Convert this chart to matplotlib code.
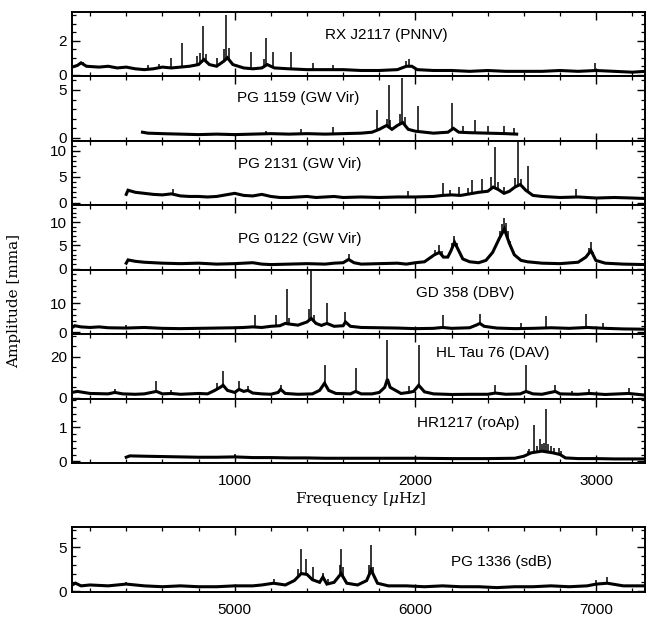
import matplotlib
matplotlib.use('Agg')
import matplotlib.pyplot as plt
import numpy as np
from matplotlib.ticker import MultipleLocator, FixedLocator

plt.rcParams['font.family'] = ['Liberation Sans', 'DejaVu Sans']
plt.rcParams['mathtext.fontset'] = 'dejavuserif'

# ---------------- data (frequency in microHz, amplitude in mma) ----------------
# RX J2117 (PNNV)
rx_floor_f = [100, 130, 150, 180, 250, 300, 350, 400, 450, 500, 550, 600, 650, 700, 750, 800, 830, 860,
              900, 940, 960, 990, 1050, 1100, 1150, 1180, 1220, 1300, 1400, 1500, 1600, 1700, 1800,
              1900, 1950, 1980, 2010, 2100, 2200, 2300, 2400, 2500, 2600, 2700, 2800, 2900, 3000,
              3100, 3200, 3270]
rx_floor_a = [0.45, 0.55, 0.7, 0.5, 0.45, 0.5, 0.4, 0.45, 0.35, 0.3, 0.35, 0.45, 0.4, 0.45, 0.5, 0.6,
              0.9, 0.6, 0.5, 0.8, 1.0, 0.6, 0.4, 0.35, 0.4, 0.6, 0.4, 0.35, 0.3, 0.3, 0.3, 0.25, 0.25,
              0.3, 0.5, 0.5, 0.3, 0.25, 0.25, 0.2, 0.25, 0.2, 0.2, 0.2, 0.25, 0.2, 0.25, 0.2, 0.15, 0.2]
rx_peak_f = [160, 520, 580, 650, 711, 790, 810, 825, 840, 900, 940, 954, 970, 1092, 1160, 1175, 1212,
             1309, 1433, 1543, 1950, 1965, 2995]
rx_peak_a = [0.75, 0.6, 0.65, 1.0, 1.9, 1.1, 1.3, 2.9, 1.2, 1.0, 1.5, 3.5, 1.6, 1.37, 0.9, 2.16, 1.37,
             1.33, 0.7, 0.6, 0.8, 0.9, 0.7]

# PG 1159 (GW Vir)
pg1159_floor_f = [490, 520, 600, 700, 800, 900, 1000, 1100, 1200, 1300, 1400, 1500, 1600, 1700, 1760,
                  1800, 1840, 1870, 1900, 1930, 1960, 2000, 2050, 2100, 2180, 2210, 2240, 2300, 2400,
                  2500, 2560]
pg1159_floor_a = [0.6, 0.5, 0.45, 0.4, 0.35, 0.4, 0.35, 0.4, 0.45, 0.4, 0.45, 0.4, 0.45, 0.5, 0.6,
                  0.9, 1.3, 0.9, 1.3, 1.6, 0.9, 0.7, 0.6, 0.5, 0.6, 1.0, 0.6, 0.55, 0.5, 0.45, 0.4]
pg1159_peak_f = [1175, 1368, 1542, 1786, 1840, 1851, 1862, 1915, 1926, 1940, 2013, 2203, 2262, 2330,
                 2400, 2492, 2547]
pg1159_peak_a = [0.7, 0.9, 1.1, 2.9, 2.0, 5.5, 1.9, 2.5, 6.2, 2.2, 3.3, 3.6, 1.2, 1.9, 1.2, 1.25, 1.0]

# PG 2131 (GW Vir)
pg2131_floor_f = [400, 410, 450, 500, 550, 600, 650, 700, 750, 800, 850, 900, 950, 1000, 1050, 1100,
                  1150, 1200, 1250, 1300, 1350, 1400, 1450, 1500, 1550, 1600, 1700, 1800, 1900, 2000,
                  2100, 2150, 2200, 2250, 2300, 2350, 2400, 2430, 2460, 2490, 2520, 2550, 2580, 2610,
                  2650, 2700, 2800, 2900, 3000, 3100, 3200, 3270]
pg2131_floor_a = [1.6, 2.4, 2.0, 1.8, 1.6, 1.5, 1.7, 1.3, 1.2, 1.2, 1.1, 1.2, 1.5, 1.8, 1.4, 1.3,
                  1.6, 1.2, 1.0, 1.0, 1.1, 1.2, 1.0, 1.1, 1.2, 1.0, 1.1, 1.0, 1.1, 1.1,
                  1.2, 1.4, 1.5, 1.4, 1.7, 2.0, 2.2, 3.0, 2.5, 1.8, 2.2, 3.0, 3.5, 2.4,
                  1.4, 1.2, 1.0, 1.1, 0.9, 1.0, 0.9, 0.8]
pg2131_peak_f = [659, 1958, 2155, 2190, 2243, 2290, 2313, 2367, 2420, 2440, 2455, 2492, 2550, 2569,
                 2585, 2624, 2888]
pg2131_peak_a = [2.6, 2.2, 3.8, 2.5, 3.1, 2.8, 4.4, 4.5, 5.0, 10.8, 4.0, 3.1, 4.7, 11.6, 4.5, 7.1, 2.6]

# PG 0122 (GW Vir)
pg0122_floor_f = [400, 410, 450, 500, 600, 700, 800, 900, 1000, 1100, 1150, 1200, 1300, 1400, 1500,
                  1550, 1600, 1630, 1660, 1700, 1800, 1900, 1950, 2000, 2050, 2105, 2133, 2155, 2179,
                  2197, 2216, 2234, 2262, 2300, 2350, 2390, 2427, 2464, 2492, 2519, 2547, 2584, 2620,
                  2700, 2800, 2900, 2943, 2971, 2998, 3050, 3150, 3270]
pg0122_floor_a = [1.2, 1.9, 1.6, 1.4, 1.2, 1.1, 1.2, 1.0, 1.1, 1.3, 1.0, 0.9, 1.0, 1.1, 1.0,
                  1.2, 1.3, 2.0, 1.3, 1.0, 1.1, 1.2, 1.0, 1.3, 1.5, 3.0, 3.5, 2.5, 2.5,
                  3.9, 5.7, 4.3, 2.1, 1.5, 1.3, 1.8, 3.5, 6.5, 8.5, 5.5, 3.0, 1.8, 1.5,
                  1.2, 1.1, 1.4, 2.5, 3.9, 1.8, 1.2, 1.0, 0.9]
pg0122_peak_f = [1631, 2110, 2129, 2145, 2200, 2216, 2228, 2470, 2480, 2492, 2500, 2510, 2525, 2960,
                 2971, 2985]
pg0122_peak_a = [3.2, 4.0, 5.1, 3.8, 5.5, 7.0, 5.5, 8.0, 9.5, 10.8, 9.8, 8.0, 6.0, 4.5, 5.7, 3.5]

# GD 358 (DBV)
gd358_floor_f = [100, 115, 150, 200, 250, 300, 400, 500, 600, 700, 800, 900, 1000, 1050, 1100, 1150,
                 1200, 1250, 1280, 1300, 1350, 1400, 1424, 1450, 1480, 1510, 1550, 1600, 1613, 1640,
                 1700, 1800, 1900, 2000, 2100, 2150, 2200, 2300, 2340, 2356, 2380, 2450, 2550, 2650,
                 2750, 2850, 2950, 3050, 3150, 3270]
gd358_floor_a = [1.5, 2.2, 1.8, 1.6, 1.8, 1.5, 1.4, 1.6, 1.3, 1.2, 1.3, 1.4, 1.5, 1.6, 1.8, 1.6,
                 2.0, 2.2, 3.0, 2.8, 2.4, 3.5, 4.7, 3.0, 2.3, 3.0, 2.0, 2.2, 3.5, 2.0,
                 1.6, 1.5, 1.4, 1.2, 1.3, 1.6, 1.3, 1.5, 2.5, 3.0, 2.0, 1.4, 1.2, 1.3,
                 1.5, 1.3, 1.6, 1.3, 1.1, 1.0]
gd358_peak_f = [398, 1114, 1227, 1289, 1300, 1410, 1424, 1440, 1510, 1613, 2151, 2356, 2584, 2722,
                2943, 3039]
gd358_peak_a = [2.4, 5.9, 5.9, 15.0, 5.0, 8.0, 21.0, 6.0, 10.1, 7.0, 5.9, 6.4, 3.0, 5.5, 6.4, 3.0]

# HL Tau 76 (DAV)
hltau_floor_f = [100, 130, 200, 300, 337, 380, 450, 500, 567, 600, 650, 700, 750, 800, 850, 890, 920,
                 936, 960, 1000, 1024, 1050, 1073, 1100, 1150, 1200, 1240, 1254, 1280, 1350, 1430,
                 1470, 1497, 1520, 1560, 1640, 1669, 1700, 1760, 1800, 1830, 1845, 1860, 1920, 1963,
                 1990, 2018, 2050, 2100, 2200, 2300, 2400, 2442, 2500, 2580, 2612, 2650, 2700, 2774,
                 2800, 2900, 2962, 3050, 3179, 3270]
hltau_floor_a = [2.5, 3.0, 2.0, 1.8, 2.5, 1.8, 1.6, 1.8, 3.0, 1.8, 2.0, 1.6, 1.8, 2.0, 1.8, 3.5, 5.0,
                 6.0, 3.5, 2.5, 4.0, 3.0, 3.5, 2.2, 1.8, 1.6, 2.5, 4.0, 2.0, 1.6, 1.8,
                 3.5, 7.0, 3.5, 2.0, 1.8, 3.0, 1.8, 1.8, 2.5, 5.0, 9.0, 5.0, 2.0, 2.5,
                 3.0, 6.0, 2.8, 1.8, 1.5, 1.6, 1.6, 2.2, 1.6, 1.8, 3.0, 1.8, 1.6, 3.0,
                 1.8, 1.6, 2.0, 1.5, 2.0, 1.2]
hltau_peak_f = [337, 567, 650, 902, 936, 1024, 1073, 1254, 1497, 1669, 1845, 1963, 2018, 2442, 2612,
                2774, 2867, 2962, 3179]
hltau_peak_a = [4.4, 8.0, 3.9, 7.2, 12.8, 8.0, 5.5, 6.3, 16.1, 14.5, 28.0, 5.5, 25.9, 6.3, 16.1,
                6.3, 3.0, 4.2, 4.7]

# HR1217 (roAp)
hr1217_floor_f = [400, 420, 500, 600, 700, 800, 900, 1000, 1100, 1200, 1300, 1400, 1500, 1600, 1800,
                  2000, 2200, 2400, 2550, 2600, 2640, 2700, 2760, 2800, 2830, 2900, 3000, 3100, 3270]
hr1217_floor_a = [0.12, 0.16, 0.15, 0.14, 0.13, 0.12, 0.12, 0.13, 0.11, 0.11, 0.10, 0.10, 0.09, 0.09,
                  0.09, 0.09, 0.08, 0.08, 0.09, 0.15, 0.25, 0.3, 0.25, 0.2, 0.1, 0.08, 0.08, 0.07, 0.07]
hr1217_peak_f = [1000, 2620, 2630, 2654, 2670, 2689, 2700, 2710, 2722, 2735, 2750, 2765, 2792, 2805]
hr1217_peak_a = [0.22, 0.3, 0.35, 1.06, 0.45, 0.67, 0.5, 0.55, 1.53, 0.5, 0.45, 0.4, 0.4, 0.3]

# PG 1336 (sdB)
pg1336_floor_f = [4100, 4120, 4150, 4200, 4300, 4400, 4500, 4600, 4700, 4800, 4900, 5000, 5100, 5150,
                  5215, 5280, 5330, 5368, 5400, 5430, 5470, 5488, 5510, 5550, 5589, 5620, 5680, 5730,
                  5755, 5790, 5850, 5950, 6050, 6150, 6250, 6350, 6450, 6550, 6650, 6750, 6850, 6950,
                  7000, 7061, 7150, 7270]
pg1336_floor_a = [0.7, 0.9, 0.6, 0.7, 0.6, 0.8, 0.6, 0.5, 0.6, 0.5, 0.5, 0.6, 0.6, 0.7,
                  0.9, 0.7, 1.2, 2.0, 1.9, 1.3, 1.0, 1.6, 0.8, 1.0, 2.0, 0.9, 0.7, 1.2,
                  2.4, 0.9, 0.6, 0.6, 0.5, 0.6, 0.5, 0.5, 0.4, 0.5, 0.5, 0.6, 0.5, 0.6,
                  0.8, 0.9, 0.6, 0.6]
pg1336_peak_f = [4400, 5215, 5350, 5368, 5392, 5433, 5488, 5515, 5580, 5589, 5600, 5745, 5755, 5765,
                 6998, 7061]
pg1336_peak_a = [1.06, 1.4, 2.5, 4.85, 3.7, 2.7, 2.1, 1.4, 3.0, 4.85, 2.8, 3.0, 5.3, 2.8, 1.25, 1.6]

star_names = ["RX J2117 (PNNV)", "PG 1159 (GW Vir)", "PG 2131 (GW Vir)", "PG 0122 (GW Vir)",
              "GD 358 (DBV)", "HL Tau 76 (DAV)", "HR1217 (roAp)"]
bottom_name = "PG 1336 (sdB)"
xticks_top = [1000, 2000, 3000]
xticks_bottom = [5000, 6000, 7000]

# ---------------- layout ----------------
W, H = 648, 618
fig = plt.figure(figsize=(W / 100, H / 100), dpi=100)
left_px, right_px = 72, 645
top_px, bot_px = 12, 463
ph = (bot_px - top_px) / 7

panels = [
    (rx_floor_f, rx_floor_a, rx_peak_f, rx_peak_a, (-0.1, 3.7), [0, 2], 0.5, (1840, 2.35)),
    (pg1159_floor_f, pg1159_floor_a, pg1159_peak_f, pg1159_peak_a, (-0.3, 6.4), [0, 5], 1, (1350, 4.2)),
    (pg2131_floor_f, pg2131_floor_a, pg2131_peak_f, pg2131_peak_a, (-0.5, 11.9), [0, 5, 10], 1, (1359, 7.5)),
    (pg0122_floor_f, pg0122_floor_a, pg0122_peak_f, pg0122_peak_a, (-0.2, 13.6), [0, 5, 10], 1, (1359, 6.4)),
    (gd358_floor_f, gd358_floor_a, gd358_peak_f, gd358_peak_a, (-0.7, 21.5), [0, 10], 2, (2276, 13.4)),
    (hltau_floor_f, hltau_floor_a, hltau_peak_f, hltau_peak_a, (-0.5, 31.0), [0, 20], 5, (2425, 22.0)),
    (hr1217_floor_f, hr1217_floor_a, hr1217_peak_f, hr1217_peak_a, (-0.05, 1.85), [0, 1], 0.2, (2293, 1.12)),
]


def style_axis(ax, ymaj, ymin_step, xmaj):
    ax.yaxis.set_major_locator(FixedLocator(ymaj))
    ax.yaxis.set_minor_locator(MultipleLocator(ymin_step))
    ax.xaxis.set_major_locator(FixedLocator(xmaj))
    ax.xaxis.set_minor_locator(MultipleLocator(200))
    ax.tick_params(which='both', direction='in', top=True, right=True, labelsize=11)
    ax.tick_params(which='major', length=6, width=1.0)
    ax.tick_params(which='minor', length=3, width=0.9)
    for s in ax.spines.values():
        s.set_linewidth(1.4)


def draw(ax, ff, fa, pf, pa):
    ax.plot(ff, fa, color='black', lw=2.2, solid_joinstyle='miter')
    base = np.interp(pf, ff, fa)
    ax.vlines(pf, base, pa, color='black', lw=1.1)


for i, (ff, fa, pf, pa, yl, ymaj, ymin_step, lab) in enumerate(panels):
    y_top = top_px + i * ph
    ax = fig.add_axes([left_px / W, 1 - (y_top + ph) / H, (right_px - left_px) / W, ph / H])
    draw(ax, ff, fa, pf, pa)
    ax.set_xlim(100, 3270)
    ax.set_ylim(*yl)
    style_axis(ax, ymaj, ymin_step, xticks_top)
    ax.text(lab[0], lab[1], star_names[i], ha='center', va='center', fontsize=11)
    if i < 6:
        ax.tick_params(labelbottom=False)
    else:
        ax.set_xticklabels([str(t) for t in xticks_top])
        ax.tick_params(axis='x', pad=8)

# bottom panel
axb = fig.add_axes([left_px / W, 1 - 592 / H, (right_px - left_px) / W, (592 - 527) / H])
draw(axb, pg1336_floor_f, pg1336_floor_a, pg1336_peak_f, pg1336_peak_a)
axb.set_xlim(4100, 7270)
axb.set_ylim(-0.1, 7.3)
style_axis(axb, [0, 5], 1, xticks_bottom)
axb.set_xticklabels([str(t) for t in xticks_bottom])
axb.tick_params(axis='x', pad=8)
axb.text(6475, 3.3, bottom_name, ha='center', va='center', fontsize=11)

fig.text(361 / W, 1 - 499 / H, r'Frequency [$\mu$Hz]', ha='center', va='center',
         fontsize=11, family='DejaVu Serif')
fig.text(14 / W, 1 - 301 / H, 'Amplitude [mma]', ha='center', va='center', rotation=90,
         fontsize=11, family='DejaVu Serif')

fig.savefig('out.png', dpi=100)
